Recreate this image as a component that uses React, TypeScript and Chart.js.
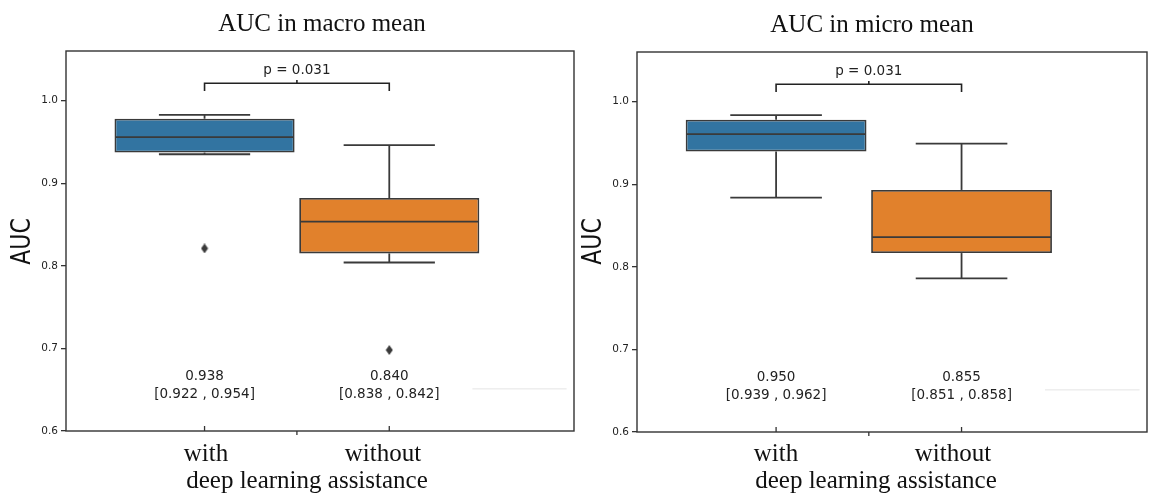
import React, { useEffect, useRef } from 'react';
import { Chart, registerables } from 'chart.js';

Chart.register(...registerables);

// ---------- data ----------
const categories = ['with', 'without'];
const xAxisTitle = 'deep learning assistance';
const yAxisTitle = 'AUC';
const yTicks = [0.6, 0.7, 0.8, 0.9, 1.0];
const pLabel = 'p = 0.031';

// macro mean
const macroTitle = 'AUC in macro mean';
const macroQ1 = [0.937, 0.815];
const macroQ3 = [0.978, 0.882];
const macroMedian = [0.9557, 0.8535];
const macroWhiskerLow = [0.935, 0.804];
const macroWhiskerHigh = [0.9827, 0.946];
const macroOutliers = [[0.821], [0.698]];
const macroMean = ['0.938', '0.840'];
const macroCI = ['[0.922 , 0.954]', '[0.838 , 0.842]'];

// micro mean
const microTitle = 'AUC in micro mean';
const microQ1 = [0.9395, 0.8166];
const microQ3 = [0.978, 0.893];
const microMedian = [0.9606, 0.836];
const microWhiskerLow = [0.8836, 0.786];
const microWhiskerHigh = [0.9835, 0.949];
const microOutliers: number[][] = [[], []];
const microMean = ['0.950', '0.855'];
const microCI = ['[0.939 , 0.962]', '[0.851 , 0.858]'];

// ---------- styles ----------
const BOX_COLORS = ['#3274a1', '#e1812c'];
const EDGE = '#3a3a3a';
const FRAME = '#333333';
const TEXT = '#222222';
const SANS = "'DejaVu Sans', sans-serif";
const SERIF = "'Liberation Serif', 'Times New Roman', serif";

function makeDiamond(): HTMLCanvasElement {
  const c = document.createElement('canvas');
  c.width = 8;
  c.height = 10;
  const g = c.getContext('2d')!;
  g.fillStyle = EDGE;
  g.beginPath();
  g.moveTo(4, 0);
  g.lineTo(7.5, 5);
  g.lineTo(4, 10);
  g.lineTo(0.5, 5);
  g.closePath();
  g.fill();
  return c;
}

interface PanelCfg {
  title: string;
  titleX: number;
  titleY: number;
  aucX: number;
  aucY: number;
  padLeft: number;
  padRight: number;
  padTop: number;
  xHeight: number;
  q1: number[];
  q3: number[];
  median: number[];
  low: number[];
  high: number[];
  outliers: number[][];
  mean: string[];
  ci: string[];
  labelX: number[];
  xTitleX: number;
}

function makePlugin(cfg: PanelCfg) {
  return {
    id: 'boxExtras',
    afterDatasetsDraw(chart: any) {
      const { ctx, scales } = chart;
      const x = scales.x;
      const y = scales.y;
      ctx.save();
      ctx.strokeStyle = EDGE;
      ctx.lineWidth = 1.8;
      const seg = (x1: number, y1: number, x2: number, y2: number) => {
        ctx.beginPath();
        ctx.moveTo(x1, y1);
        ctx.lineTo(x2, y2);
        ctx.stroke();
      };
      const boxMeta = chart.getDatasetMeta(0);
      cfg.median.forEach((m, i) => {
        const bar = boxMeta.data[i];
        const cx = x.getPixelForValue(i);
        const hw = bar ? bar.width / 2 - 1 : 0;
        const cw = x.getPixelForValue(i + 0.247) - cx;
        seg(cx - hw, y.getPixelForValue(m), cx + hw, y.getPixelForValue(m));
        // upper whisker
        seg(cx, y.getPixelForValue(cfg.q3[i]), cx, y.getPixelForValue(cfg.high[i]));
        seg(cx - cw, y.getPixelForValue(cfg.high[i]), cx + cw, y.getPixelForValue(cfg.high[i]));
        // lower whisker
        seg(cx, y.getPixelForValue(cfg.q1[i]), cx, y.getPixelForValue(cfg.low[i]));
        seg(cx - cw, y.getPixelForValue(cfg.low[i]), cx + cw, y.getPixelForValue(cfg.low[i]));
      });
      ctx.restore();
    },
    afterDraw(chart: any) {
      const { ctx, scales, chartArea: a } = chart;
      const x = scales.x;
      const y = scales.y;
      ctx.save();
      // frame
      ctx.strokeStyle = FRAME;
      ctx.lineWidth = 1.4;
      ctx.strokeRect(a.left, a.top, a.right - a.left, a.bottom - a.top);
      // x tick marks
      ctx.lineWidth = 1.3;
      categories.forEach((_, i) => {
        const px = x.getPixelForValue(i);
        ctx.beginPath();
        ctx.moveTo(px, a.bottom);
        ctx.lineTo(px, a.bottom - 5);
        ctx.stroke();
      });
      const mid = x.getPixelForValue(0.5);
      ctx.beginPath();
      ctx.moveTo(mid, a.bottom);
      ctx.lineTo(mid, a.bottom + 4);
      ctx.stroke();

      // faint line
      ctx.strokeStyle = '#e4e4e4';
      ctx.lineWidth = 1;
      ctx.beginPath();
      ctx.moveTo(x.getPixelForValue(1.45), y.getPixelForValue(0.651));
      ctx.lineTo(x.getPixelForValue(1.96), y.getPixelForValue(0.651));
      ctx.stroke();

      // bracket
      ctx.strokeStyle = '#222';
      ctx.lineWidth = 1.6;
      const bx0 = x.getPixelForValue(0);
      const bx1 = x.getPixelForValue(1);
      const byTop = y.getPixelForValue(1.021);
      const byLeg = y.getPixelForValue(1.0115);
      ctx.beginPath();
      ctx.moveTo(bx0, byLeg);
      ctx.lineTo(bx0, byTop);
      ctx.lineTo(bx1, byTop);
      ctx.lineTo(bx1, byLeg);
      ctx.stroke();
      ctx.beginPath();
      ctx.moveTo(mid, byTop);
      ctx.lineTo(mid, y.getPixelForValue(1.025));
      ctx.stroke();

      ctx.fillStyle = TEXT;
      ctx.textAlign = 'center';
      ctx.textBaseline = 'middle';
      ctx.font = `13.5px ${SANS}`;
      ctx.fillText(pLabel, mid, y.getPixelForValue(1.036));

      // mean / CI annotations
      cfg.mean.forEach((m, i) => {
        const px = x.getPixelForValue(i);
        ctx.fillText(m, px, y.getPixelForValue(0.6655));
        ctx.fillText(cfg.ci[i], px, y.getPixelForValue(0.6445));
      });

      // title
      ctx.fillStyle = '#111';
      ctx.font = `25px ${SERIF}`;
      ctx.textBaseline = 'alphabetic';
      ctx.fillText(cfg.title, cfg.titleX, cfg.titleY);

      // x labels
      categories.forEach((c, i) => {
        ctx.fillText(c, cfg.labelX[i], 461);
      });
      ctx.fillText(xAxisTitle, cfg.xTitleX, 488);

      // y axis title
      ctx.save();
      ctx.translate(cfg.aucX, cfg.aucY);
      ctx.rotate(-Math.PI / 2);
      ctx.scale(1, 1.2);
      ctx.font = `22px ${SANS}`;
      ctx.textBaseline = 'middle';
      ctx.fillStyle = '#111';
      ctx.fillText(yAxisTitle, 0, 0);
      ctx.restore();

      ctx.restore();
    },
  };
}

function Panel({ cfg, left, width }: { cfg: PanelCfg; left: number; width: number }) {
  const ref = useRef<HTMLCanvasElement>(null);
  useEffect(() => {
    const canvas = ref.current!;
    const diamond = makeDiamond();
    const outlierPts: { x: number; y: number }[] = [];
    cfg.outliers.forEach((arr, i) => arr.forEach((v) => outlierPts.push({ x: i, y: v })));
    const chart = new Chart(canvas, {
      type: 'bar',
      data: {
        datasets: [
          {
            type: 'bar',
            data: categories.map((_, i) => ({ x: i, y: [cfg.q1[i], cfg.q3[i]] })) as any,
            backgroundColor: BOX_COLORS,
            borderColor: EDGE,
            borderWidth: 1.8,
            borderSkipped: false,
            barPercentage: 0.975,
            categoryPercentage: 1,
          } as any,
          {
            type: 'scatter',
            data: outlierPts,
            pointStyle: diamond,
            pointRadius: 5,
            showLine: false,
          } as any,
        ],
      },
      options: {
        animation: false,
        responsive: false,
        maintainAspectRatio: false,
        events: [],
        layout: { padding: { left: 0, right: cfg.padRight, top: cfg.padTop, bottom: 0 } },
        plugins: { legend: { display: false }, tooltip: { enabled: false }, title: { display: false } },
        scales: {
          x: {
            type: 'linear',
            min: -0.75,
            max: 2.0,
            offset: false,
            afterBuildTicks: (s: any) => {
              s.ticks = categories.map((_, i) => ({ value: i }));
            },
            ticks: { display: false },
            grid: { display: false },
            border: { display: false },
            afterFit: (s: any) => {
              s.height = cfg.xHeight;
            },
          },
          y: {
            type: 'linear',
            min: 0.6,
            max: 1.06,
            afterBuildTicks: (s: any) => {
              s.ticks = yTicks.map((v) => ({ value: v }));
            },
            ticks: {
              color: TEXT,
              font: { family: SANS, size: 10.5 },
              padding: 3,
              callback: (v: any) => Number(v).toFixed(1),
            },
            grid: { drawOnChartArea: false, drawTicks: true, tickLength: 5, color: FRAME, lineWidth: 1.3 },
            border: { display: false },
            afterFit: (s: any) => {
              s.width = cfg.padLeft;
            },
          },
        },
      } as any,
      plugins: [makePlugin(cfg)],
    });
    return () => chart.destroy();
  }, []);
  return (
    <canvas
      ref={ref}
      width={width}
      height={494}
      style={{ position: 'absolute', left, top: 0, width, height: 494 }}
    />
  );
}

const macroCfg: PanelCfg = {
  title: macroTitle,
  titleX: 322,
  titleY: 31,
  aucX: 23,
  aucY: 241.5,
  padLeft: 66,
  padRight: 4,
  padTop: 51,
  xHeight: 63,
  q1: macroQ1,
  q3: macroQ3,
  median: macroMedian,
  low: macroWhiskerLow,
  high: macroWhiskerHigh,
  outliers: macroOutliers,
  mean: macroMean,
  ci: macroCI,
  labelX: [206, 383],
  xTitleX: 307,
};

const microCfg: PanelCfg = {
  title: microTitle,
  titleX: 292,
  titleY: 32,
  aucX: 14.5,
  aucY: 241.5,
  padLeft: 57,
  padRight: 4,
  padTop: 52,
  xHeight: 62,
  q1: microQ1,
  q3: microQ3,
  median: microMedian,
  low: microWhiskerLow,
  high: microWhiskerHigh,
  outliers: microOutliers,
  mean: microMean,
  ci: microCI,
  labelX: [196, 373],
  xTitleX: 296,
};

export default function App() {
  return (
    <div style={{ position: 'absolute', left: 0, top: 0, width: 1151, height: 494, background: '#fff', overflow: 'hidden' }}>
      <Panel cfg={macroCfg} left={0} width={580} />
      <Panel cfg={microCfg} left={580} width={571} />
    </div>
  );
}
